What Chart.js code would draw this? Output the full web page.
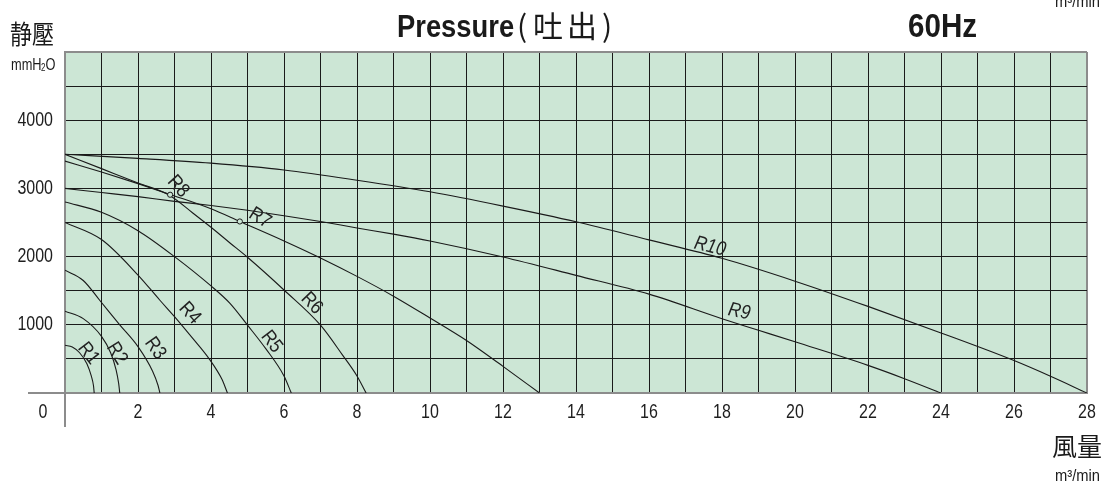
<!DOCTYPE html>
<html>
<head>
<meta charset="utf-8">
<script src="https://cdn.jsdelivr.net/npm/chart.js@4"></script>
<style>
  html, body { margin: 0; padding: 0; background: #fff; }
  canvas { display: block; }
</style>
</head>
<body>
<canvas id="pressureChart" width="1119" height="484"></canvas>
<script>
// Static pressure (mmH2O) against air flow (m3/min), one curve per model
const R1 = [[0, 700], [0.2, 675], [0.4, 590], [0.6, 430], [0.72, 250], [0.78, 110], [0.8, 0]];
const R2 = [[0, 1200], [0.5, 1090], [1, 830], [1.25, 590], [1.4, 340], [1.47, 140], [1.5, 0]];
const R3 = [[0, 1800], [0.5, 1650], [0.95, 1360], [1.5, 1000], [2, 680], [2.4, 320], [2.55, 110], [2.6, 0]];
const R4 = [[0, 2500], [1, 2250], [2, 1730], [2.6, 1360], [3, 1120], [3.5, 800], [3.95, 500], [4.3, 200], [4.45, 0]];
const R5 = [[0, 2800], [1, 2650], [2, 2380], [3, 2000], [4, 1570], [4.52, 1314], [5, 995], [5.5, 650], [6, 250], [6.2, 0]];
const R6 = [[0, 3500], [1, 3290], [2, 3080], [2.86, 2900], [3.5, 2640], [4, 2430], [4.52, 2200], [5, 1990], [6, 1510], [7, 995], [7.6, 560], [8, 250], [8.25, 0]];
const R7 = [[0, 3400], [1, 3240], [2, 3070], [3, 2890], [4, 2700], [4.79, 2515], [6, 2230], [7, 1980], [8, 1710], [9, 1420], [10, 1100], [11, 770], [12, 390], [13, 0]];
const R9 = [[0, 3000], [1, 2940], [2, 2880], [3, 2810], [4, 2750], [5, 2680], [6, 2600], [7, 2515], [8, 2420], [9, 2330], [10, 2230], [12, 1995], [14, 1725], [16, 1450], [18, 1090], [19, 920], [20, 750], [22, 405], [23, 210], [24, 0]];
const R10 = [[0, 3500], [2, 3440], [4, 3370], [6, 3270], [8, 3120], [10, 2950], [12, 2740], [14, 2510], [16, 2245], [18, 1975], [20, 1640], [22, 1270], [24, 880], [26, 475], [27, 245], [28, 0]];

// operating points marked with a small ring
const R7_POINT = [[4.79, 2515]];
const R8_POINT = [[2.88, 2907]];

const xTickLabels = [2, 4, 6, 8, 10, 12, 14, 16, 18, 20, 22, 24, 26, 28];
const yTickLabels = [1000, 2000, 3000, 4000];

const SANS = "'Liberation Sans', Arial, sans-serif";
const CJK = "'Noto Sans CJK TC', 'Noto Sans CJK SC', sans-serif";
const INK = '#1a1a1a';
const EDGE = '#8c8c8c';
const FIELD = '#cce6d5';

// curve name tags, placed in data units with rotation in degrees
const tags = [
  { text: 'R1', x: 0.64, y: 579, angle: 52 },
  { text: 'R2', x: 1.42, y: 579, angle: 58 },
  { text: 'R3', x: 2.47, y: 653, angle: 55 },
  { text: 'R4', x: 3.42, y: 1168, angle: 48 },
  { text: 'R5', x: 5.66, y: 750, angle: 52 },
  { text: 'R6', x: 6.76, y: 1315, angle: 46 },
  { text: 'R7', x: 5.34, y: 2565, angle: 32 },
  { text: 'R8', x: 3.10, y: 3029, angle: 48 },
  { text: 'R9', x: 18.47, y: 1191, angle: 12, italic: true },
  { text: 'R10', x: 17.67, y: 2147, angle: 14, italic: true }
];

const toPoints = arr => arr.map(([x, y]) => ({ x, y }));

const curve = data => ({
  data: toPoints(data),
  showLine: true,
  borderColor: INK,
  borderWidth: 1.1,
  pointRadius: 0,
  cubicInterpolationMode: 'monotone',
  order: 1
});

const ring = data => ({
  data: toPoints(data),
  showLine: false,
  pointRadius: 2.6,
  pointBackgroundColor: FIELD,
  pointBorderColor: INK,
  pointBorderWidth: 1,
  order: 0
});

// condensed lettering: squeeze a regular face horizontally
function squeezed(ctx, text, x, y, font, sx, align, baseline) {
  ctx.save();
  ctx.translate(x, y);
  ctx.scale(sx, 1);
  ctx.font = font;
  ctx.textAlign = align || 'left';
  ctx.textBaseline = baseline || 'alphabetic';
  ctx.fillText(text, 0, 0);
  ctx.restore();
}

const frame = {
  id: 'frame',
  beforeDraw(chart) {
    const { ctx, chartArea: a } = chart;
    ctx.save();
    ctx.fillStyle = FIELD;
    ctx.fillRect(a.left, a.top, a.right - a.left, a.bottom - a.top);
    ctx.restore();
  },
  afterDraw(chart) {
    const { ctx, chartArea: a, scales } = chart;
    const sx = scales.x, sy = scales.y;
    ctx.save();

    // axis stubs running past the plot corner
    ctx.strokeStyle = EDGE;
    ctx.lineWidth = 2;
    ctx.beginPath();
    ctx.moveTo(28, a.bottom);
    ctx.lineTo(a.left, a.bottom);
    ctx.moveTo(a.left, a.bottom);
    ctx.lineTo(a.left, 427);
    ctx.stroke();

    // tick labels at the scale positions
    ctx.fillStyle = '#1e1e1e';
    const tickFont = `20px ${SANS}`;
    sx.ticks.forEach(t => {
      if (xTickLabels.includes(t.value)) {
        squeezed(ctx, String(t.value), sx.getPixelForValue(t.value), 412, tickFont, 0.8, 'center', 'middle');
      }
    });
    sy.ticks.forEach(t => {
      if (yTickLabels.includes(t.value)) {
        squeezed(ctx, String(t.value), 53, sy.getPixelForValue(t.value), tickFont, 0.8, 'right', 'middle');
      }
    });
    squeezed(ctx, '0', 43, 412, tickFont, 0.8, 'center', 'middle');

    // headings
    ctx.fillStyle = '#1a1a1a';
    squeezed(ctx, 'Pressure', 397, 37, `bold 32px ${SANS}`, 0.855, 'left');
    squeezed(ctx, '60Hz', 908, 37, `bold 34px ${SANS}`, 0.87, 'left');
    ctx.font = `30px ${CJK}`;
    ctx.textAlign = 'center';
    ctx.textBaseline = 'middle';
    ctx.fillText('(', 522, 26);
    ctx.fillText('吐', 548, 26);
    ctx.fillText('出', 582, 26);
    ctx.fillText(')', 607, 26);

    // axis captions
    ctx.save();
    ctx.translate(32, 34);
    ctx.scale(0.85, 1);
    ctx.font = `26px ${CJK}`;
    ctx.textBaseline = 'middle';
    ctx.fillText('静壓', 0, 0);
    ctx.restore();

    squeezed(ctx, 'mmH', 11, 70, `16px ${SANS}`, 0.8, 'left');
    squeezed(ctx, '2', 41, 71, `10px ${SANS}`, 0.8, 'left');
    squeezed(ctx, 'O', 45.5, 70, `16px ${SANS}`, 0.8, 'left');

    ctx.font = `25px ${CJK}`;
    ctx.textAlign = 'center';
    ctx.textBaseline = 'middle';
    ctx.fillText('風量', 1077, 446);

    squeezed(ctx, 'm³/min', 1100, 481, `16px ${SANS}`, 0.92, 'right');
    squeezed(ctx, 'm³/min', 1100, 7, `16px ${SANS}`, 0.92, 'right');

    // curve names
    ctx.fillStyle = '#222';
    tags.forEach(t => {
      ctx.save();
      ctx.translate(sx.getPixelForValue(t.x), sy.getPixelForValue(t.y));
      ctx.rotate(t.angle * Math.PI / 180);
      squeezed(ctx, t.text, 0, 0, `${t.italic ? 'italic ' : ''}20px ${SANS}`, 0.86, 'center', 'middle');
      ctx.restore();
    });

    ctx.restore();
  }
};

const edgeOr = (isEdge, a, b) => isEdge ? a : b;

new Chart(document.getElementById('pressureChart'), {
  type: 'scatter',
  data: {
    datasets: [
      ring(R7_POINT), ring(R8_POINT),
      curve(R1), curve(R2), curve(R3), curve(R4), curve(R5),
      curve(R6), curve(R7), curve(R9), curve(R10)
    ]
  },
  options: {
    responsive: false,
    animation: false,
    layout: { padding: { top: 52, right: 32, left: 0, bottom: 0 } },
    plugins: { legend: { display: false }, tooltip: { enabled: false } },
    scales: {
      x: {
        type: 'linear',
        min: 0,
        max: 28,
        afterFit: s => { s.height = 91; },
        ticks: { stepSize: 1, autoSkip: false, display: false },
        grid: {
          drawTicks: false,
          color: c => edgeOr(c.tick && (c.tick.value === 0 || c.tick.value === 28), EDGE, INK),
          lineWidth: c => edgeOr(c.tick && (c.tick.value === 0 || c.tick.value === 28), 2, 1)
        },
        border: { display: true, color: EDGE, width: 2 }
      },
      y: {
        type: 'linear',
        min: 0,
        max: 5000,
        afterFit: s => { s.width = 65; },
        ticks: { stepSize: 500, display: false },
        grid: {
          drawTicks: false,
          color: c => edgeOr(c.tick && (c.tick.value === 0 || c.tick.value === 5000), EDGE, INK),
          lineWidth: c => edgeOr(c.tick && (c.tick.value === 0 || c.tick.value === 5000), 2, 1)
        },
        border: { display: true, color: EDGE, width: 2 }
      }
    }
  },
  plugins: [frame]
});
</script>
</body>
</html>
